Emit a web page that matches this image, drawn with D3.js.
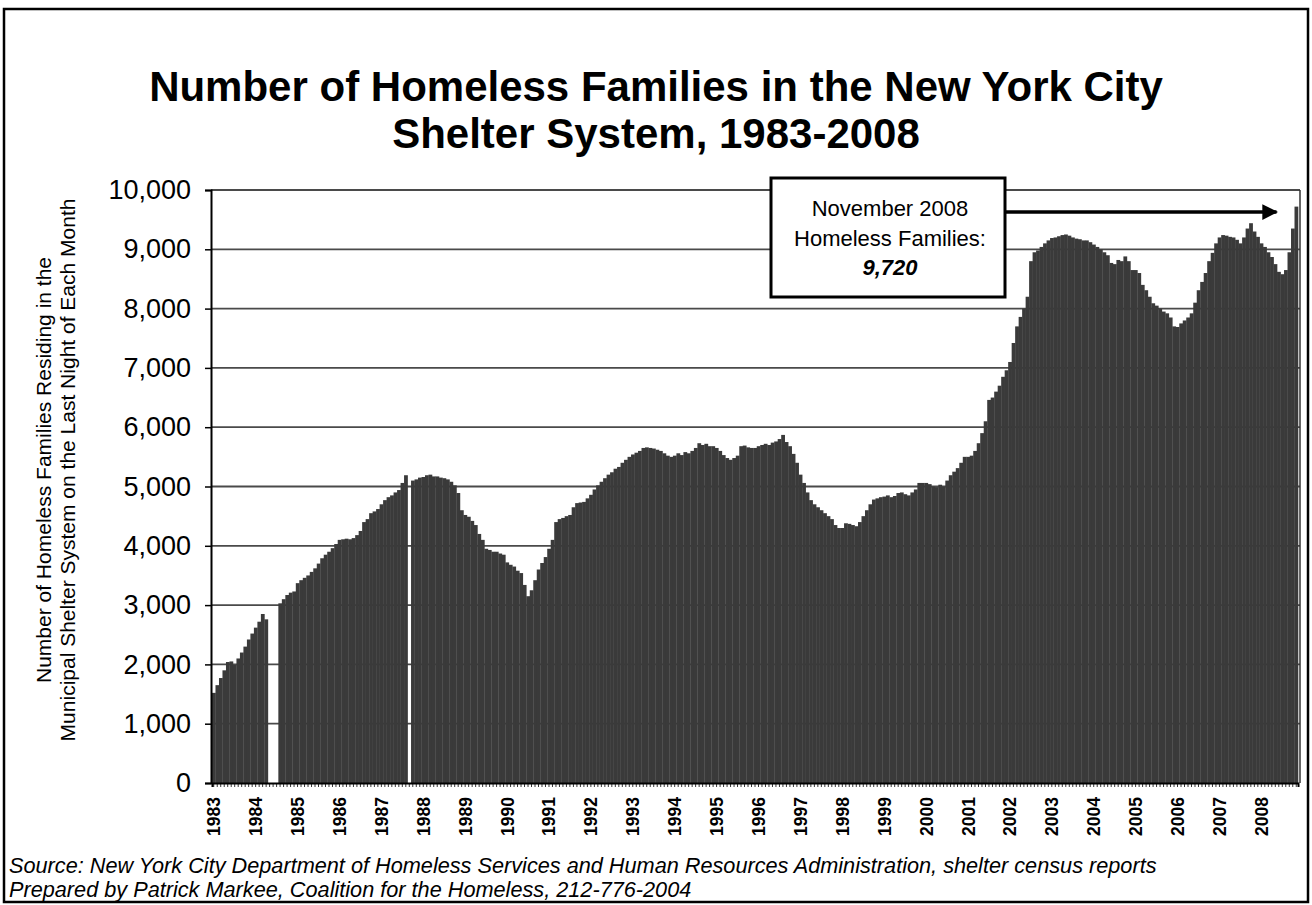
<!DOCTYPE html>
<html>
<head>
<meta charset="utf-8">
<script src="https://cdn.jsdelivr.net/npm/d3@7"></script>
<style>
  html, body { margin: 0; padding: 0; background: #fff; }
  svg { display: block; }
</style>
</head>
<body>
<svg id="chart" width="1312" height="905"></svg>
<script>
// ---- DATA (families in shelter, last night of each month; null = no data) ----
const yearLabels = ["1983","1984","1985","1986","1987","1988","1989","1990","1991","1992","1993","1994","1995","1996","1997","1998","1999","2000","2001","2002","2003","2004","2005","2006","2007","2008"];
const v1983 = [1520,1650,1770,1900,2040,2050,1990,2100,2200,2300,2420,2520];
const v1984 = [2620,2720,2850,2760,null,null,null,3030,3100,3170,3210,3230];
const v1985 = [3370,3420,3460,3500,3560,3620,3700,3790,3850,3900,3960,4030];
const v1986 = [4100,4110,4120,4110,4130,4180,4250,4400,4450,4550,4580,4620];
const v1987 = [4700,4770,4820,4850,4900,4940,5060,5190,null,5100,5120,5150];
const v1988 = [5160,5190,5200,5170,5170,5150,5140,5120,5080,5020,4890,4600];
const v1989 = [4520,4490,4420,4350,4200,4100,3950,3930,3900,3900,3870,3850];
const v1990 = [3720,3680,3650,3580,3540,3340,3150,3250,3420,3600,3710,3810];
const v1991 = [3950,4100,4400,4450,4470,4500,4520,4650,4720,4730,4740,4800];
const v1992 = [4860,4950,5020,5080,5140,5200,5240,5300,5330,5400,5450,5500];
const v1993 = [5540,5570,5600,5650,5660,5650,5640,5620,5600,5560,5520,5500];
const v1994 = [5520,5560,5530,5580,5560,5600,5650,5730,5700,5720,5680,5680];
const v1995 = [5650,5600,5530,5480,5450,5480,5520,5680,5690,5660,5650,5650];
const v1996 = [5680,5700,5720,5700,5740,5760,5800,5870,5750,5680,5550,5400];
const v1997 = [5200,5060,4900,4770,4700,4650,4600,4550,4500,4450,4350,4300];
const v1998 = [4300,4380,4370,4350,4330,4400,4500,4600,4700,4780,4800,4820];
const v1999 = [4830,4850,4820,4840,4890,4900,4870,4850,4900,4950,5060,5060];
const v2000 = [5060,5040,5000,4990,5030,5000,5100,5190,5250,5310,5400,5500];
const v2001 = [5500,5520,5600,5730,5900,6100,6460,6500,6600,6700,6850,6960];
const v2002 = [7100,7420,7700,7860,8000,8200,8800,8950,8980,9040,9100,9150];
const v2003 = [9190,9200,9220,9240,9250,9230,9200,9180,9170,9150,9150,9120];
const v2004 = [9080,9040,9000,8950,8900,8770,8750,8820,8800,8880,8800,8650];
const v2005 = [8650,8600,8400,8310,8200,8090,8050,8000,7950,7920,7850,7700];
const v2006 = [7690,7750,7800,7850,7920,8100,8310,8450,8600,8800,8940,9100];
const v2007 = [9200,9240,9230,9210,9200,9160,9100,9200,9350,9440,9300,9210];
const v2008 = [9100,9040,8950,8870,8750,8620,8580,8650,8950,9350,9720];
const yTicks = [0,1000,2000,3000,4000,5000,6000,7000,8000,9000,10000];

const titleLines = ["Number of Homeless Families in the New York City", "Shelter System, 1983-2008"];
const yTitleLines = ["Number of Homeless Families Residing in the", "Municipal Shelter System on the Last Night of Each Month"];
const noteLines = ["November 2008", "Homeless Families:", "9,720"];
const sourceLines = ["Source:  New York City Department of Homeless Services and Human Resources Administration, shelter census reports",
                     "Prepared by Patrick Markee, Coalition for the Homeless, 212-776-2004"];

// ---- BUILD ----
const yearly = [v1983,v1984,v1985,v1986,v1987,v1988,v1989,v1990,v1991,v1992,v1993,v1994,v1995,v1996,v1997,v1998,v1999,v2000,v2001,v2002,v2003,v2004,v2005,v2006,v2007,v2008];
const data = [];
yearly.forEach((arr, yi) => arr.forEach((v, mi) => data.push({ idx: data.length, year: yearLabels[yi], month: mi, value: v })));

const svg = d3.select("#chart");
const plot = { left: 211, right: 1300, top: 190, bottom: 783 };
const FONT = "'Liberation Sans', Arial, Helvetica, sans-serif";

// outer frame
svg.append("rect").attr("x", 4).attr("y", 9).attr("width", 1304).attr("height", 893)
  .attr("fill", "none").attr("stroke", "#000").attr("stroke-width", 2.5);

const x = d3.scaleBand().domain(data.map(d => d.idx)).range([plot.left + 1, plot.right - 2]).paddingInner(0);
const y = d3.scaleLinear().domain([0, 10000]).range([plot.bottom, plot.top]);

// title
svg.append("g").selectAll("text").data(titleLines).join("text")
  .attr("x", 656).attr("y", (d, i) => 101 + i * 47)
  .attr("text-anchor", "middle").attr("font-family", FONT).attr("font-weight", "bold")
  .attr("font-size", 42).attr("fill", "#000").text(d => d);

// gridlines
svg.append("g").selectAll("line").data(yTicks.filter(t => t > 0)).join("line")
  .attr("x1", plot.left).attr("x2", plot.right)
  .attr("y1", d => y(d)).attr("y2", d => y(d))
  .attr("stroke", "#4a4a4a").attr("stroke-width", 1.8);

// right border of plot
svg.append("line").attr("x1", plot.right).attr("x2", plot.right).attr("y1", plot.top).attr("y2", plot.bottom)
  .attr("stroke", "#333").attr("stroke-width", 1.5);

// bars
svg.append("g").selectAll("rect").data(data.filter(d => d.value != null)).join("rect")
  .attr("x", d => x(d.idx)).attr("width", x.bandwidth() + 0.3)
  .attr("y", d => y(d.value)).attr("height", d => y(0) - y(d.value))
  .attr("fill", "#3a3a3a");

// y axis
const yAxis = d3.axisLeft(y).tickValues(yTicks).tickSize(6).tickFormat(d3.format(","));
const gy = svg.append("g").attr("transform", `translate(${plot.left},0)`).call(yAxis);
gy.select(".domain").attr("stroke", "#000").attr("stroke-width", 2);
gy.selectAll(".tick line").attr("stroke", "#000").attr("stroke-width", 1.5);
gy.selectAll(".tick text").attr("x", -20).attr("font-family", FONT).attr("font-size", 27).attr("fill", "#000");

// x axis (one tick per month, labels only for January)
const xAxis = d3.axisBottom(x).tickSize(4).tickFormat(() => "");
const gx = svg.append("g").attr("transform", `translate(0,${plot.bottom})`).call(xAxis);
gx.select(".domain").attr("stroke", "#000").attr("stroke-width", 2);
gx.selectAll(".tick line").attr("stroke", "#000").attr("stroke-width", 0.8);

svg.append("g").selectAll("text").data(data.filter(d => d.month === 0)).join("text")
  .attr("transform", d => `translate(${x(d.idx) + x.bandwidth() / 2 + 6.5},797) rotate(-90)`)
  .attr("text-anchor", "end").attr("font-family", FONT).attr("font-size", 17.5).attr("font-weight", "bold")
  .attr("fill", "#000").text(d => d.year);

// y title
svg.append("g").selectAll("text").data(yTitleLines).join("text")
  .attr("transform", (d, i) => `translate(${51 + i * 24},${470}) rotate(-90)`)
  .attr("text-anchor", "middle").attr("font-family", FONT).attr("font-size", 21).attr("fill", "#000")
  .text(d => d);

// annotation box
const box = { x: 771, y: 178, w: 234, h: 119 };
svg.append("rect").attr("x", box.x).attr("y", box.y).attr("width", box.w).attr("height", box.h)
  .attr("fill", "#fff").attr("stroke", "#000").attr("stroke-width", 3);
svg.append("g").selectAll("text").data(noteLines).join("text")
  .attr("x", box.x + box.w / 2 + 2).attr("y", (d, i) => box.y + 38 + i * 29.5)
  .attr("text-anchor", "middle").attr("font-family", FONT).attr("font-size", 22)
  .attr("font-weight", (d, i) => i === 2 ? "bold" : "normal")
  .attr("font-style", (d, i) => i === 2 ? "italic" : "normal")
  .attr("fill", "#000").text(d => d);

// arrow to last bar
const last = data[data.length - 1];
svg.append("defs").append("marker").attr("id", "ah").attr("viewBox", "0 0 10 10")
  .attr("refX", 9).attr("refY", 5).attr("markerWidth", 4.5).attr("markerHeight", 4.5).attr("orient", "auto")
  .append("path").attr("d", "M0,0 L10,5 L0,10 z").attr("fill", "#000");
svg.append("line").attr("x1", box.x + box.w).attr("y1", 212)
  .attr("x2", x(last.idx) - 18).attr("y2", 212)
  .attr("stroke", "#000").attr("stroke-width", 3.5).attr("marker-end", "url(#ah)");

// source lines
svg.append("g").selectAll("text").data(sourceLines).join("text")
  .attr("x", 9).attr("y", (d, i) => 873 + i * 24)
  .attr("font-family", FONT).attr("font-style", "italic").attr("font-size", 21.7).attr("fill", "#000")
  .text(d => d);
</script>
</body>
</html>
